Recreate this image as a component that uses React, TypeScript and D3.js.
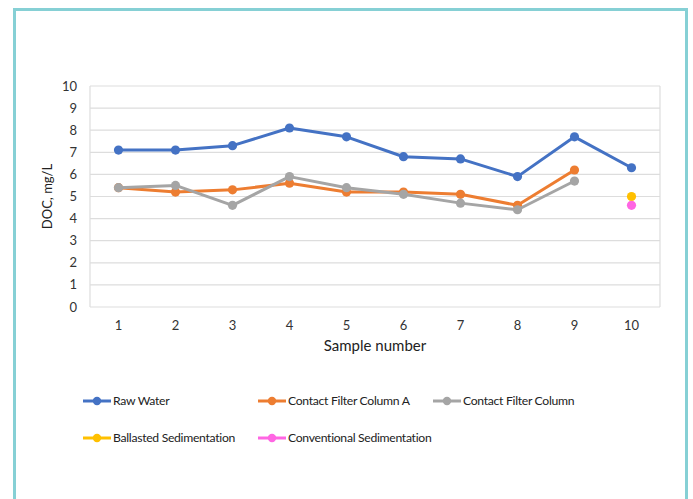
import React from "react";
import * as d3 from "d3";

const samples = ["1", "2", "3", "4", "5", "6", "7", "8", "9", "10"];
const yTicks = [0, 1, 2, 3, 4, 5, 6, 7, 8, 9, 10];

const rawWater: (number | null)[] = [7.1, 7.1, 7.3, 8.1, 7.7, 6.8, 6.7, 5.9, 7.7, 6.3];
const contactA: (number | null)[] = [5.4, 5.2, 5.3, 5.6, 5.2, 5.2, 5.1, 4.6, 6.2, null];
const contactB: (number | null)[] = [5.4, 5.5, 4.6, 5.9, 5.4, 5.1, 4.7, 4.4, 5.7, null];
const ballasted: (number | null)[] = [null, null, null, null, null, null, null, null, null, 5.0];
const conventional: (number | null)[] = [null, null, null, null, null, null, null, null, null, 4.6];

const seriesNames = [
  "Raw Water",
  "Contact Filter Column A",
  "Contact Filter Column",
  "Ballasted Sedimentation",
  "Conventional Sedimentation",
];
const seriesColors = ["#4472C4", "#ED7D31", "#A5A5A5", "#FFC000", "#FF66E3"];
const seriesValues = [rawWater, contactA, contactB, ballasted, conventional];

const W = 693;
const H = 499;
const plot = { left: 90, right: 660, top: 86, bottom: 307 };
const FONT = "Lato, 'Open Sans', sans-serif";

// legend slots: [x of line start, y]
const legendSlots: [number, number][] = [
  [83, 401],
  [258, 401],
  [433, 401],
  [83, 438],
  [258, 438],
];

export default function App() {
  const x = d3
    .scaleBand<string>()
    .domain(samples)
    .range([plot.left, plot.right]);
  const y = d3.scaleLinear().domain([0, 10]).range([plot.bottom, plot.top]);
  const cx = (i: number) => (x(samples[i]) as number) + x.bandwidth() / 2;

  const line = d3
    .line<number | null>()
    .defined((d) => d != null)
    .x((_, i) => cx(i))
    .y((d) => y(d as number));

  return (
    <svg
      width={W}
      height={H}
      style={{ position: "absolute", left: 0, top: 0, background: "#fff" }}
      fontFamily={FONT}
    >
      {/* frame */}
      <path
        d={`M14.5,${H} L14.5,9.5 L686.5,9.5 L686.5,${H}`}
        fill="none"
        stroke="#86D0D5"
        strokeWidth={3}
      />

      {/* gridlines */}
      {yTicks.map((t) => (
        <line
          key={t}
          x1={plot.left}
          x2={plot.right}
          y1={y(t)}
          y2={y(t)}
          stroke="#DDDDDD"
          strokeWidth={1.2}
        />
      ))}
      <line x1={plot.left} x2={plot.left} y1={plot.top} y2={plot.bottom} stroke="#DDDDDD" strokeWidth={1.2} />
      <line x1={plot.right} x2={plot.right} y1={plot.top} y2={plot.bottom} stroke="#DDDDDD" strokeWidth={1.2} />

      {/* y tick labels */}
      {yTicks.map((t) => (
        <text
          key={t}
          x={77}
          y={y(t)}
          dy="0.35em"
          textAnchor="end"
          fontSize={13}
          fill="#333"
        >
          {t}
        </text>
      ))}

      {/* x tick labels */}
      {samples.map((s, i) => (
        <text key={s} x={cx(i)} y={325} dy="0.35em" textAnchor="middle" fontSize={13} fill="#333">
          {s}
        </text>
      ))}

      <text x={375} y={346} dy="0.35em" textAnchor="middle" fontSize={15} fill="#222">
        Sample number
      </text>
      <text
        transform={`translate(47,${(plot.top + plot.bottom) / 2}) rotate(-90)`}
        textAnchor="middle"
        dy="0.35em"
        fontSize={13}
        fill="#222"
      >
        DOC, mg/L
      </text>

      {/* series */}
      {seriesValues.map((vals, si) => (
        <g key={seriesNames[si]}>
          <path
            d={line(vals) || ""}
            fill="none"
            stroke={seriesColors[si]}
            strokeWidth={3}
            strokeLinejoin="round"
          />
          {vals.map((v, i) =>
            v == null ? null : (
              <circle key={i} cx={cx(i)} cy={y(v)} r={4.6} fill={seriesColors[si]} />
            )
          )}
        </g>
      ))}

      {/* legend */}
      {seriesNames.map((name, si) => {
        const [lx, ly] = legendSlots[si];
        return (
          <g key={name}>
            <line x1={lx} x2={lx + 28} y1={ly} y2={ly} stroke={seriesColors[si]} strokeWidth={3} />
            <circle cx={lx + 14} cy={ly} r={4.2} fill={seriesColors[si]} />
            <text
              x={lx + 30}
              y={ly}
              dy="0.35em"
              fontSize={12.2}
              letterSpacing={-0.3}
              fill="#222"
            >
              {name}
            </text>
          </g>
        );
      })}
    </svg>
  );
}
